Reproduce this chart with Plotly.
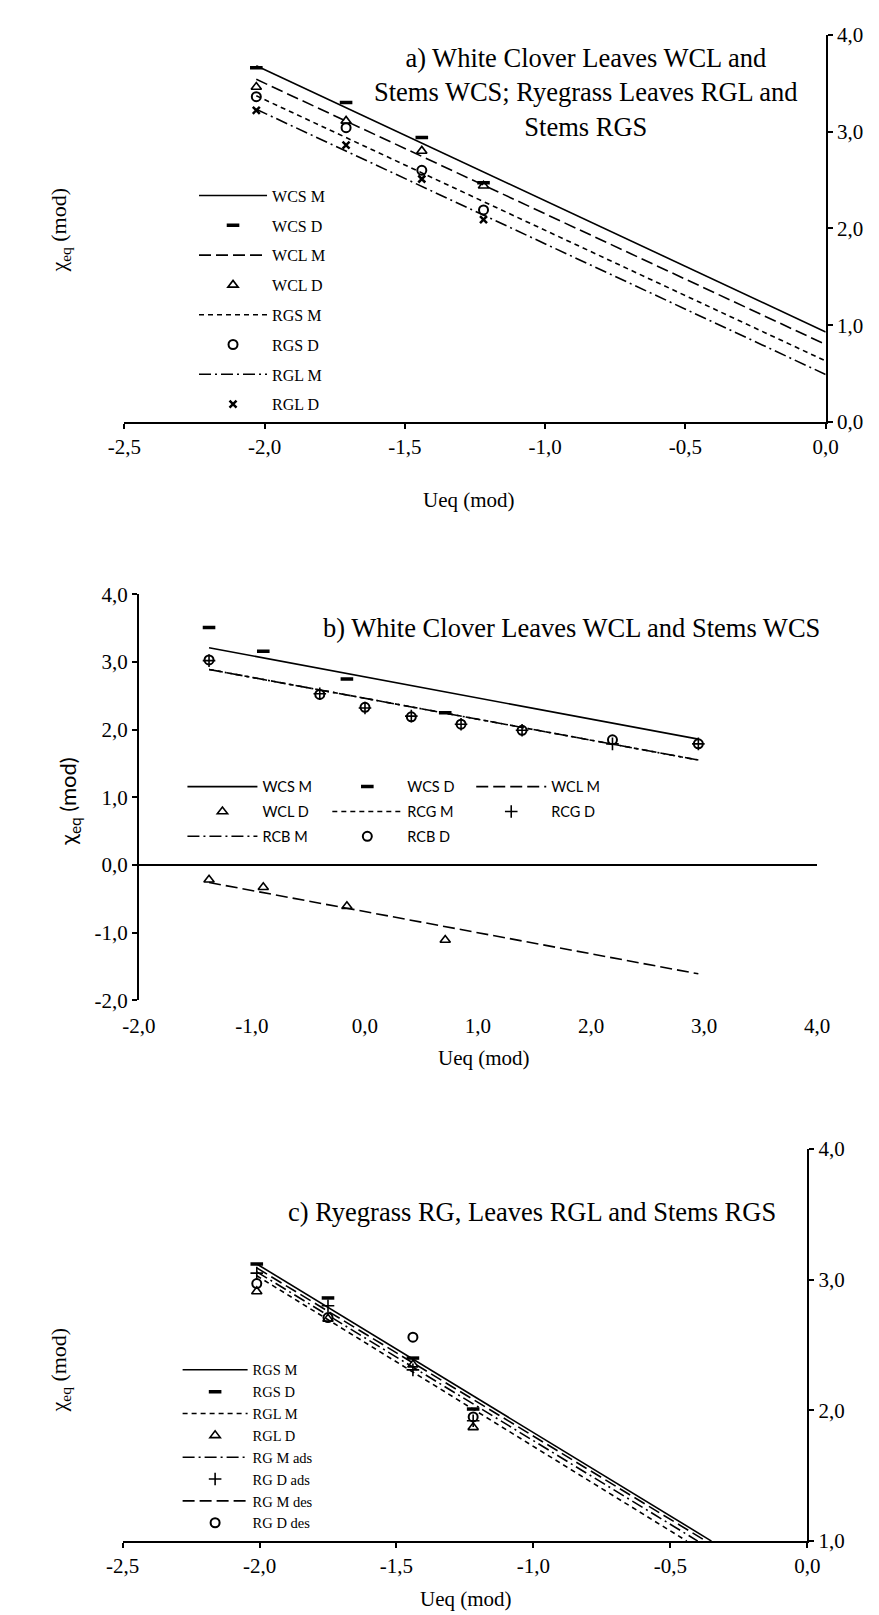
import plotly.graph_objects as go

W, H = 879, 1615

# ---------------- data: panel a ----------------
a_x = [-2.03, -1.71, -1.44, -1.22]
a_wcs_d = [3.66, 3.30, 2.94, 2.47]
a_wcl_d = [3.46, 3.11, 2.80, 2.44]
a_rgs_d = [3.36, 3.04, 2.60, 2.19]
a_rgl_d = [3.22, 2.86, 2.51, 2.09]
a_line_x = [-2.03, 0.0]
a_wcs_m = [3.68, 0.93]
a_wcl_m = [3.54, 0.80]
a_rgs_m = [3.37, 0.63]
a_rgl_m = [3.23, 0.49]
a_xticks = [-2.5, -2.0, -1.5, -1.0, -0.5, 0.0]
a_yticks = [0.0, 1.0, 2.0, 3.0, 4.0]

# ---------------- data: panel b ----------------
b_x_wc = [-1.38, -0.90, -0.16, 0.71]
b_wcs_d = [3.51, 3.16, 2.75, 2.25]
b_wcl_d = [-0.22, -0.33, -0.61, -1.11]
b_x_rc = [-1.38, -0.40, 0.0, 0.41, 0.85, 1.39, 2.19, 2.95]
b_rcb_d = [3.03, 2.52, 2.33, 2.19, 2.08, 1.99, 1.85, 1.79]
b_rcg_d = [3.02, 2.53, 2.32, 2.20, 2.08, 1.99, 1.79, 1.79]
b_line_x = [-1.38, 2.95]
b_wcs_m = [3.21, 1.86]
b_wcl_m = [-0.26, -1.61]
b_rcg_m = [2.89, 1.55]
b_rcb_m = [2.89, 1.55]
b_xticks = [-2.0, -1.0, 0.0, 1.0, 2.0, 3.0, 4.0]
b_yticks = [-2.0, -1.0, 0.0, 1.0, 2.0, 3.0, 4.0]

# ---------------- data: panel c ----------------
c_x = [-2.01, -1.75, -1.44, -1.22]
c_rgs_d = [3.12, 2.86, 2.40, 2.01]
c_rgl_d = [2.91, 2.70, 2.35, 1.87]
c_rg_d_ads = [3.05, 2.80, 2.31, 1.92]
c_rg_d_des = [2.97, 2.71, 2.56, 1.95]
c_rgs_m_x = [-2.01, -0.35]
c_rgs_m = [3.12, 1.0]
c_rgl_m_x = [-2.01, -0.44]
c_rgl_m = [3.03, 1.0]
c_rg_m_ads_x = [-2.01, -0.40]
c_rg_m_ads = [3.06, 1.0]
c_rg_m_des_x = [-2.01, -0.37]
c_rg_m_des = [3.09, 1.0]
c_xticks = [-2.5, -2.0, -1.5, -1.0, -0.5, 0.0]
c_yticks = [1.0, 2.0, 3.0, 4.0]

SERIF = "Liberation Serif"
SANS = "Lato"

LONG = "12px,5px"
SHORT = "5px,4px"
DASHDOT = "12px,4px,2px,4px"


def lab(v):
    return f"{v:.1f}".replace(".", ",")


def px_x(p):
    return p / W


def px_y(p):
    return 1 - p / H


fig = go.Figure()


def line(x, y, name, dash, ax, legend):
    fig.add_trace(go.Scatter(
        x=x, y=y, mode="lines", name=name,
        line=dict(color="black", width=1.6, dash=dash),
        xaxis="x" + ax, yaxis="y" + ax, legend=legend,
        legendgroup=legend + name))


def pts(x, y, name, symbol, size, lw, ax, legend):
    fig.add_trace(go.Scatter(
        x=x, y=y, mode="markers", name=name,
        marker=dict(symbol=symbol, size=size, color="black",
                    line=dict(color="black", width=lw)),
        xaxis="x" + ax, yaxis="y" + ax, legend=legend,
        legendgroup=legend + name))


DASH_SYM = ("line-ew", 9, 3.5)
TRI_SYM = ("triangle-up-open", 9, 1.6)
CIR_SYM = ("circle-open", 9, 2)
X_SYM = ("x-thin", 7, 2.5)
PLUS_SYM = ("cross-thin", 9, 1.6)

# panel a
line(a_line_x, a_wcs_m, "WCS M", "solid", "", "legend")
pts(a_x, a_wcs_d, "WCS D", *DASH_SYM, "", "legend")
line(a_line_x, a_wcl_m, "WCL M", LONG, "", "legend")
pts(a_x, a_wcl_d, "WCL D", *TRI_SYM, "", "legend")
line(a_line_x, a_rgs_m, "RGS M", SHORT, "", "legend")
pts(a_x, a_rgs_d, "RGS D", *CIR_SYM, "", "legend")
line(a_line_x, a_rgl_m, "RGL M", DASHDOT, "", "legend")
pts(a_x, a_rgl_d, "RGL D", *X_SYM, "", "legend")

# panel b (three legend columns)
line(b_line_x, b_wcs_m, "WCS M", "solid", "2", "legend2")
pts(b_x_wc, b_wcl_d, "WCL D", *TRI_SYM, "2", "legend2")
line(b_line_x, b_rcb_m, "RCB M", DASHDOT, "2", "legend2")
pts(b_x_wc, b_wcs_d, "WCS D", *DASH_SYM, "2", "legend3")
line(b_line_x, b_rcg_m, "RCG M", SHORT, "2", "legend3")
pts(b_x_rc, b_rcb_d, "RCB D", *CIR_SYM, "2", "legend3")
line(b_line_x, b_wcl_m, "WCL M", LONG, "2", "legend4")
pts(b_x_rc, b_rcg_d, "RCG D", *PLUS_SYM, "2", "legend4")

# panel c
line(c_rgs_m_x, c_rgs_m, "RGS M", "solid", "3", "legend5")
pts(c_x, c_rgs_d, "RGS D", *DASH_SYM, "3", "legend5")
line(c_rgl_m_x, c_rgl_m, "RGL M", SHORT, "3", "legend5")
pts(c_x, c_rgl_d, "RGL D", *TRI_SYM, "3", "legend5")
line(c_rg_m_ads_x, c_rg_m_ads, "RG M ads", DASHDOT, "3", "legend5")
pts(c_x, c_rg_d_ads, "RG D ads", *PLUS_SYM, "3", "legend5")
line(c_rg_m_des_x, c_rg_m_des, "RG M des", LONG, "3", "legend5")
pts(c_x, c_rg_d_des, "RG D des", *CIR_SYM, "3", "legend5")

TICKFONT = dict(family=SERIF, size=21, color="black")


def axis(domain, rng, ticks, anchor, **kw):
    d = dict(domain=domain, range=rng, anchor=anchor,
             tickvals=ticks, ticktext=[lab(t) for t in ticks],
             showgrid=False, zeroline=False, showline=True,
             linecolor="black", linewidth=2,
             ticks="outside", ticklen=5, tickwidth=1.5, tickcolor="black",
             tickfont=TICKFONT, fixedrange=True)
    d.update(kw)
    return d


def legend_cfg(xpx, ypx, font, size, gap, iw):
    return dict(x=px_x(xpx), y=px_y(ypx), xanchor="left", yanchor="top",
                orientation="v", traceorder="grouped", tracegroupgap=gap,
                itemwidth=iw, bgcolor="rgba(0,0,0,0)", borderwidth=0,
                font=dict(family=font, size=size, color="black"))


fig.update_layout(
    width=W, height=H,
    margin=dict(l=0, r=0, t=0, b=0),
    paper_bgcolor="white", plot_bgcolor="white",
    showlegend=True,
    xaxis=axis([px_x(103), px_x(829)], [-2.5, 0.0], a_xticks, "y"),
    yaxis=axis([px_y(408), px_y(15)], [0.0, 4.0], a_yticks, "x", side="right"),
    xaxis2=axis([px_x(118), px_x(820)], [-2.0, 4.0], b_xticks, "y2",
                showline=False, tickcolor="rgba(0,0,0,0)", ticklen=7),
    yaxis2=axis([px_y(995), px_y(583)], [-2.0, 4.0], b_yticks, "x2",
                side="left", zeroline=True, zerolinecolor="black",
                zerolinewidth=2),
    xaxis3=axis([px_x(101), px_x(810)], [-2.5, 0.0], c_xticks, "y3"),
    yaxis3=axis([px_y(1544), px_y(1146)], [1.0, 4.0], c_yticks, "x3",
                side="right"),
    legend=legend_cfg(175, 161, SERIF, 16, 6, 68),
    legend2=legend_cfg(163, 762, SANS, 14.5, 3, 70),
    legend3=legend_cfg(313, 762, SANS, 14.5, 3, 70),
    legend4=legend_cfg(462, 762, SANS, 14.5, 3, 70),
    legend5=legend_cfg(158, 1354, SERIF, 14.5, 0, 65),
)


def note(text, xpx, ypx, size, family=SERIF, angle=0):
    fig.add_annotation(text=text, x=px_x(xpx), y=px_y(ypx),
                       xref="paper", yref="paper", showarrow=False,
                       xanchor="center", yanchor="middle", align="center",
                       textangle=angle,
                       font=dict(family=family, size=size, color="black"))


note("a) White Clover Leaves WCL and<br>Stems WCS; Ryegrass Leaves RGL and<br>Stems RGS",
     581, 74, 26.5)
note("b) White Clover Leaves WCL and Stems WCS", 566, 617, 26.5)
note("c) Ryegrass RG, Leaves RGL and Stems RGS", 525, 1210, 26.5)

note("Ueq (mod)", 460, 487, 21)
note("Ueq (mod)", 475, 1054, 21)
note("Ueq (mod)", 457, 1603, 21)

note("χ<sub>eq</sub> (mod)", 36, 213, 22, angle=-90)
note("χ<sub>eq</sub> (mod)", 46, 793, 22, family=SANS, angle=-90)
note("χ<sub>eq</sub> (mod)", 36, 1370, 22, angle=-90)

fig.write_html("out.html")
